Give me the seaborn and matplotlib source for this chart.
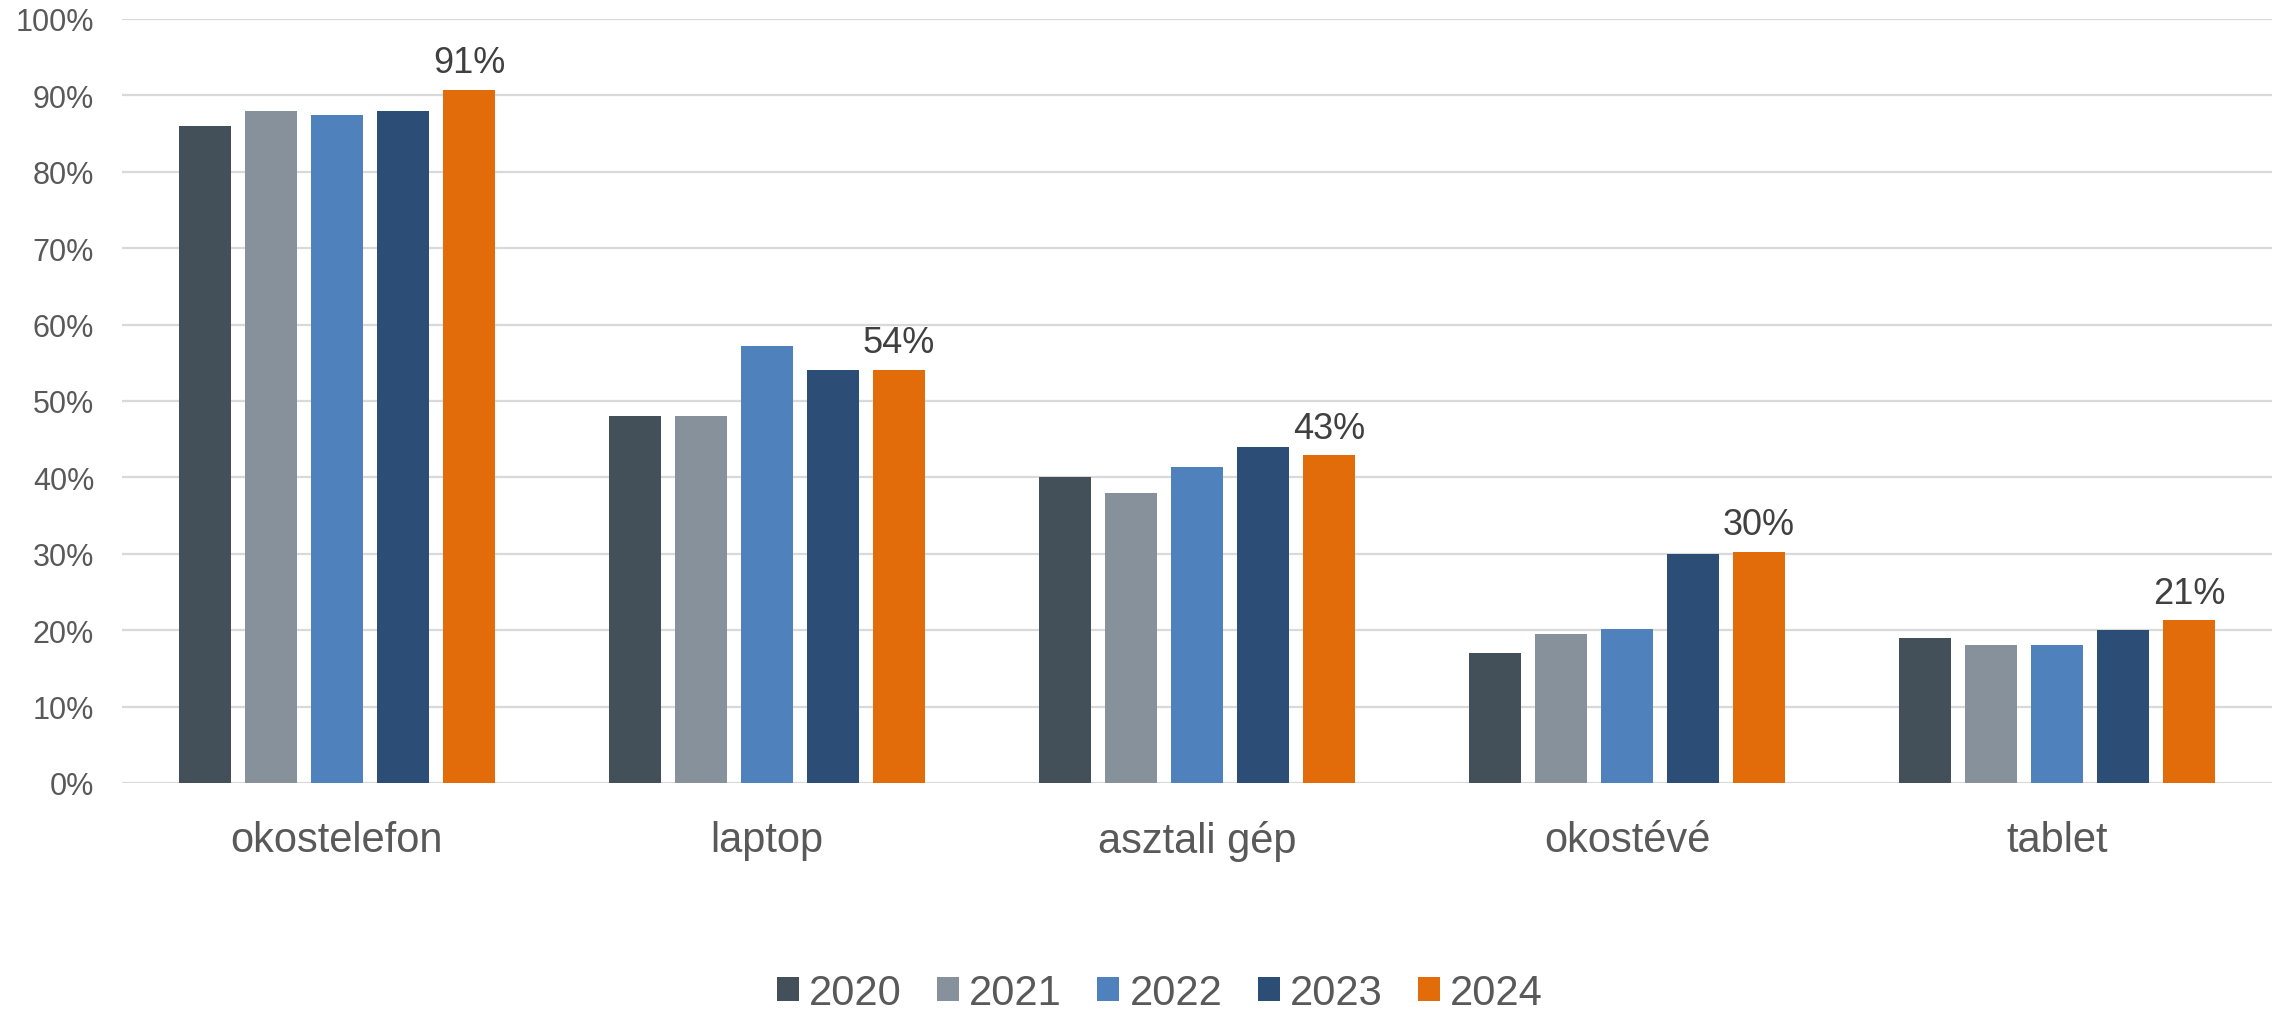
import matplotlib
matplotlib.use("Agg")
import matplotlib.pyplot as plt
from matplotlib.ticker import FuncFormatter, MultipleLocator
import seaborn as sns
import pandas as pd

# Device ownership share (%) by year
devices = ["okostelefon", "laptop", "asztali gép", "okostévé", "tablet"]
years = ["2020", "2021", "2022", "2023", "2024"]
share_2020 = [86.0, 48.0, 40.0, 17.0, 19.0]
share_2021 = [88.0, 48.0, 38.0, 19.5, 18.0]
share_2022 = [87.5, 57.2, 41.4, 20.1, 18.0]
share_2023 = [88.0, 54.0, 44.0, 30.0, 20.0]
share_2024 = [90.7, 54.1, 42.9, 30.3, 21.3]
year_colors = ["#435059", "#87919b", "#4f81bd", "#2c4d75", "#e36c0a"]

series = [share_2020, share_2021, share_2022, share_2023, share_2024]
df = pd.DataFrame(
    [(dev, yr, vals[i]) for yr, vals in zip(years, series) for i, dev in enumerate(devices)],
    columns=["device", "year", "share"],
)

sns.set_theme(style="white")
plt.rcParams["font.family"] = ["Liberation Sans", "DejaVu Sans"]

fig = plt.figure(figsize=(22.82, 10.20), dpi=100)
ax = fig.add_axes([122 / 2282, (1020 - 784) / 1020, 2150 / 2282, 764 / 1020])

sns.barplot(
    data=df, x="device", y="share", hue="year", order=devices, hue_order=years,
    palette=year_colors, width=0.767, gap=0.21, linewidth=0, saturation=1,
    errorbar=None, ax=ax,
)

ax.set_ylim(0, 100)
ax.set_xlim(-0.5, len(devices) - 0.5)
ax.yaxis.set_major_locator(MultipleLocator(10))
ax.yaxis.set_major_formatter(FuncFormatter(lambda v, _: f"{v:.0f}%"))
ax.set_axisbelow(True)
ax.grid(axis="y", color="#d9d9d9", linewidth=1.6)
ax.grid(axis="x", visible=False)
for s in ax.spines.values():
    s.set_visible(False)
ax.set_xlabel("")
ax.set_ylabel("")
ax.tick_params(axis="y", length=0, pad=20, labelsize=22, labelcolor="#595959")
ax.tick_params(axis="x", length=0, pad=27, labelsize=30, labelcolor="#595959")

# Value labels on the 2024 bars
last = ax.containers[-1]
ax.bar_label(last, labels=[f"{v:.0f}%" for v in share_2024], padding=7,
             fontsize=26, color="#404040")

handles, labels = ax.get_legend_handles_labels()
ax.get_legend().remove()
fig.legend(
    handles, labels, loc="center", bbox_to_anchor=(1160 / 2282, 1 - 994 / 1020),
    ncol=5, frameon=False, fontsize=30, labelcolor="#595959",
    borderpad=0.1, handlelength=0.52, handleheight=0.52, handletextpad=0.25,
    columnspacing=0.85,
)

fig.savefig("out.png", dpi=100, facecolor="white")
